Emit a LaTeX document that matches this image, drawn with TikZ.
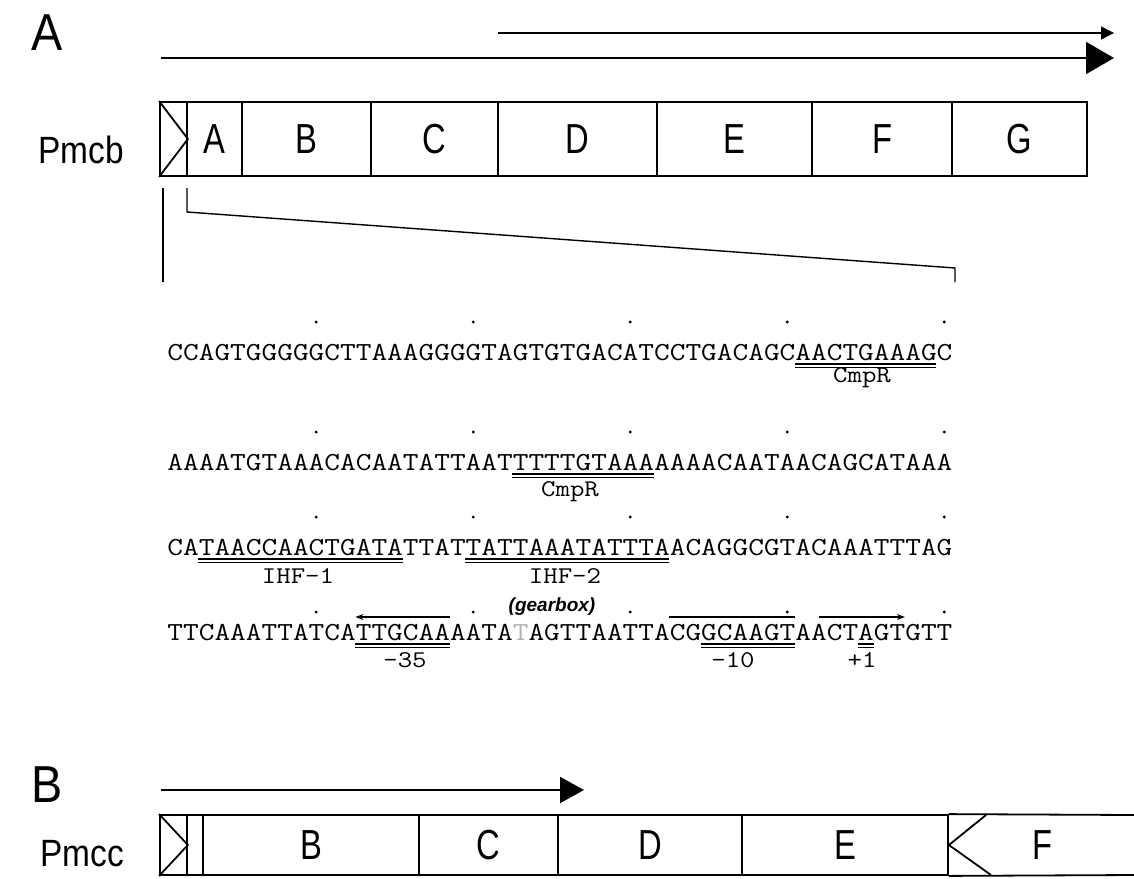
\documentclass[tikz,border=0pt]{standalone}
\usepackage{fontspec}
\usepackage{graphicx}
\usepackage{xcolor}
\setmainfont{Liberation Sans}
\usetikzlibrary{arrows.meta}
\newcommand\gl[1]{\scalebox{0.78}[1]{#1}}
\newcommand\sq[1]{\resizebox{392.5pt}{\height}{\ttfamily\fontsize{13}{15}\selectfont #1}}
\newcommand\sql[1]{\scalebox{1.17}[1]{\ttfamily\fontsize{12}{14}\selectfont #1}}
\newcommand\cx[1]{167+#1*15.7}
\newcommand\dul[3]{\draw[uline] ({\cx{#1}},#3) -- ({\cx{#2}},#3) ({\cx{#1}},#3+3.2) -- ({\cx{#2}},#3+3.2);}
\begin{document}
\begin{tikzpicture}[x=0.5pt,y=-0.5pt,
  cellA/.style={draw,line width=0.9pt,inner sep=0pt,minimum height=37pt,font=\fontsize{21}{24}\selectfont},
  cellB/.style={draw,line width=0.9pt,inner sep=0pt,minimum height=30pt,font=\fontsize{21}{24}\selectfont},
  boxline/.style={line width=0.9pt},
  brline/.style={line width=0.7pt},
  arrline/.style={line width=0.8pt},
  panel/.style={inner sep=0pt,font=\fontsize{26}{28}\selectfont},
  pname/.style={inner sep=0pt,anchor=base west,font=\fontsize{19}{22}\selectfont},
  seqline/.style={inner sep=0pt,anchor=base west},
  seqlab/.style={inner sep=0pt},
  gear/.style={inner sep=0pt,font=\fontsize{9.5}{11}\selectfont\bfseries\itshape},
  seqdot/.style={circle,fill,inner sep=0pt,minimum size=1.6pt},
  uline/.style={line width=0.55pt},
  oline/.style={line width=1pt},
]
\useasboundingbox (0,0) rectangle (1134,878);

% ---------- Panel A ----------
\node[panel] (labA) at (47,33) {\scalebox{0.9}[1]{A}};
\coordinate (ta1) at (498,33);
\coordinate (ta2) at (1114,33);
\draw[arrline,-{Triangle[length=6.5pt,width=6.5pt]}] (ta1) -- (ta2);
\coordinate (tb1) at (161,58);
\coordinate (tb2) at (1114,58);
\draw[line width=1pt,-{Triangle[length=14pt,width=16pt]}] (tb1) -- (tb2);

\node[pname] (pmcb) at (38,163) {\scalebox{0.88}[1]{Pmcb}};
\node[cellA,minimum width=13.5pt] (prA) at (173.5,139) {};
\draw[boxline] (prA.north west) -- (prA.east) -- (prA.south west);
\node[cellA,minimum width=27.5pt] (cA) at (214.5,139) {\gl{A}};
\node[cellA,minimum width=64.5pt] (cB) at (306.5,139) {\gl{B}};
\node[cellA,minimum width=63.5pt] (cC) at (434.5,139) {\gl{C}};
\node[cellA,minimum width=79.5pt] (cD) at (577.5,139) {\gl{D}};
\node[cellA,minimum width=77.5pt] (cE) at (734.5,139) {\gl{E}};
\node[cellA,minimum width=70pt] (cF) at (882,139) {\gl{F}};
\node[cellA,minimum width=67.5pt] (cG) at (1019.5,139) {\gl{G}};

% bracket to sequence
\coordinate (bl1) at (163,188);
\coordinate (bl2) at (163,282);
\coordinate (br1) at (187,188);
\coordinate (br2) at (187,212);
\coordinate (br3) at (955,268);
\coordinate (br4) at (955,282);
\draw[brline] (bl1) -- (bl2);
\draw[brline] (br1) -- (br2) -- (br3) -- (br4);

% dots every 10 bases
\foreach \yy in {322,432,517,612}{
  \foreach \i in {9,19,29,39,49}{
    \node[seqdot] (d-\i-\yy) at ({\cx{(\i+0.5)}},\yy) {};
  }
}

% sequence lines
\node[seqline] (s1) at (167,360) {\sq{CCAGTGGGGGCTTAAAGGGGTAGTGTGACATCCTGACAGCAACTGAAAGC}};
\node[seqline] (s2) at (167,470) {\sq{AAAATGTAAACACAATATTAATTTTTGTAAAAAAACAATAACAGCATAAA}};
\node[seqline] (s3) at (167,555) {\sq{CATAACCAACTGATATTATTATTAAATATTTAACAGGCGTACAAATTTAG}};
\node[seqline] (s4) at (167,640) {\sq{TTCAAATTATCATTGCAAAATA{\color{black!30}T}AGTTAATTACGGCAAGTAACTAGTGTT}};

% underlines
\dul{40}{49}{364}
\dul{22}{31}{474}
\dul{2}{15}{559}
\dul{19}{32}{559}
\dul{12}{18}{644}
\dul{34}{40}{644}
\dul{44}{45}{644}

% overlines
\draw[oline,{Stealth[length=4pt,width=3pt]}-] ({\cx{12}},617) -- ({\cx{18}},617);
\draw[oline] ({\cx{32}},617) -- ({\cx{40}},617);
\draw[oline,-{Stealth[length=4pt,width=3pt]}] ({\cx{41.5}},617) -- ({\cx{47}},617);

% labels
\node[seqlab] (cmp1) at (862,378) {\sql{CmpR}};
\node[seqlab] (cmp2) at (570,492) {\sql{CmpR}};
\node[seqlab] (ihf1) at (298,576) {\sql{IHF-1}};
\node[seqlab] (ihf2) at (565,576) {\sql{IHF-2}};
\node[gear] (gb) at (552,607) {(gearbox)};
\node[seqlab] (m35) at (405,660) {\sql{-35}};
\node[seqlab] (m10) at (733,660) {\sql{-10}};
\node[seqlab] (p1) at (862,660) {\sql{+1}};

% ---------- Panel B ----------
\node[panel] (labB) at (47,785) {\scalebox{0.9}[1]{B}};
\coordinate (ba1) at (161,790);
\coordinate (ba2) at (584,790);
\draw[line width=1pt,-{Triangle[length=12pt,width=13pt]}] (ba1) -- (ba2);

\node[pname] (pmcc) at (40,866) {\scalebox{0.88}[1]{Pmcc}};
\node[cellB,minimum width=13.5pt] (prB) at (173.5,845) {};
\draw[boxline] (prB.north west) -- (prB.east) -- (prB.south west);
\node[cellB,minimum width=8pt] (stB) at (195,845) {};
\node[cellB,minimum width=108pt] (bB) at (311,845) {\gl{B}};
\node[cellB,minimum width=69.5pt] (bC) at (488.5,845) {\gl{C}};
\node[cellB,minimum width=92pt] (bD) at (650,845) {\gl{D}};
\node[cellB,minimum width=103pt] (bE) at (845,845) {\gl{E}};
\node[inner sep=0pt,font=\fontsize{21}{24}\selectfont] (bF) at (1042,845) {\gl{F}};
\coordinate (fr1) at (1134,815);
\coordinate (fr2) at (1134,875);
\coordinate (nk1) at (986,815);
\coordinate (nk2) at (991,875);
\draw[boxline] (bE.north east) -- (fr1);
\draw[boxline] (bE.south east) -- (fr2);
\draw[boxline] (nk1) -- (bE.east) -- (nk2);
\end{tikzpicture}
\end{document}
